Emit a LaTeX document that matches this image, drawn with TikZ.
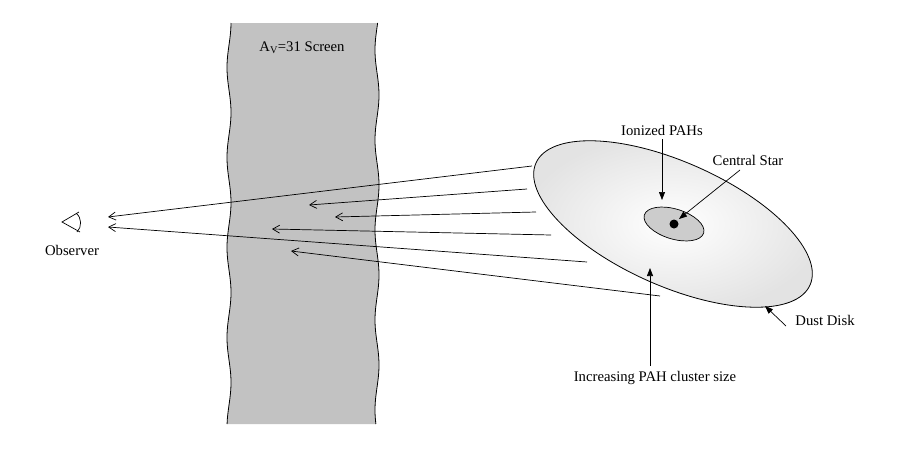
\documentclass[tikz,border=0pt]{standalone}
\usepackage{fontspec}
\setmainfont{Liberation Serif}
\usetikzlibrary{arrows.meta}
\begin{document}
\begin{tikzpicture}[x=1pt,y=-1pt,
  lbl/.style={font=\fontsize{14.7}{16}\selectfont, inner sep=1pt},
  ray/.style={line width=0.7pt,-{Straight Barb[length=7pt,width=8pt]}},
  ptr/.style={line width=0.7pt,-{Triangle[length=8pt,width=6pt]}}]
\useasboundingbox (0,0) rectangle (900,450);
% screen
\fill[gray!48] plot[domain=23:424,samples=80,smooth] ({229+2*sin(\x*4)},\x)
  -- plot[domain=424:23,samples=80,smooth] ({377+2*sin(\x*4+70)},\x) -- cycle;
\draw[line width=0.8pt] plot[domain=23:424,samples=80,smooth] ({229+2*sin(\x*4)},\x);
\draw[line width=0.8pt] plot[domain=23:424,samples=80,smooth] ({377+2*sin(\x*4+70)},\x);
\node[lbl] (scr) at (302,48) {A\textsubscript{V}=31 Screen};
% disk
\shade[inner color=white,outer color=gray!22,rotate around={-24:(673,224)}] (673,224) ellipse (150 and 62);
\draw[line width=0.8pt,rotate around={-24:(673,224)}] (673,224) ellipse (150 and 62);
\fill[gray!40,rotate around={-17:(674,224)}] (674,224) ellipse (31 and 15);
\draw[line width=0.7pt,rotate around={-17:(674,224)}] (674,224) ellipse (31 and 15);
\fill (674,224) circle (4.5);
\coordinate (star) at (679,219);
\coordinate (ion) at (662,200);
\coordinate (mid) at (650,268);
\coordinate (edge) at (765,306);
% eye
\coordinate (obs1) at (108,217);
\coordinate (obs2) at (108,227);
\draw[line width=0.7pt] (79,212) -- (62,222) -- (80,232);
\draw[line width=0.7pt] (76,213) .. controls (82,218) and (82,227) .. (77,232);
\node[lbl] (obs) at (72,250) {Observer};
% rays
\coordinate (s1) at (532,166);
\coordinate (s2) at (527,189);
\coordinate (s3) at (536,212);
\coordinate (s4) at (551,235);
\coordinate (s5) at (587,262);
\coordinate (s6) at (660,296);
\coordinate (e2) at (309,205);
\coordinate (e3) at (335,217);
\coordinate (e4) at (272,229);
\coordinate (e6) at (291,251);
\draw[ray] (s1) -- (obs1);
\draw[ray] (s2) -- (e2);
\draw[ray] (s3) -- (e3);
\draw[ray] (s4) -- (e4);
\draw[ray] (s5) -- (obs2);
\draw[ray] (s6) -- (e6);
% labels
\node[lbl] (ionl) at (662,130) {Ionized PAHs};
\node[lbl] (starl) at (748,160) {Central Star};
\node[lbl] (dustl) at (825,320) {Dust Disk};
\node[lbl] (incl) at (655,378) {Increasing PAH cluster size};
\draw[ptr] (ionl.south -| ion) ++(0,3) -- (ion);
\draw[ptr] (740,170) -- (star);
\draw[ptr] (786,326) -- (edge);
\draw[ptr] (650,366) -- (mid);
\end{tikzpicture}
\end{document}
